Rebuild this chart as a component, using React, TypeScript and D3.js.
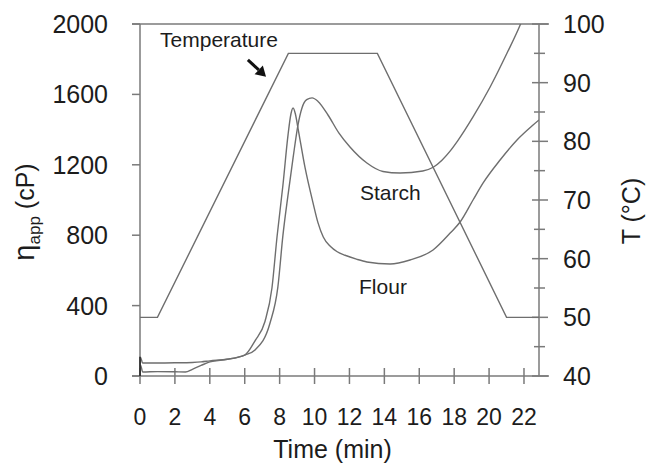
import * as d3 from 'd3'

// RVA pasting curves
const flourTime = [0, 0.03, 0.15, 1, 2, 3, 3.5, 4, 5, 6, 6.59, 7.16, 7.56, 7.85, 8.19, 8.48, 8.65, 8.77, 8.9, 9.05, 9.46, 9.91, 10.2, 10.5, 10.9, 11.3, 11.75, 12.4, 13.0, 14.33, 15.47, 16.79, 17.77, 18.34, 19.08, 19.66, 20.63, 21.6, 22.52, 22.86]
const flourVisc = [0, 105, 74, 74, 75, 77, 80, 86, 95, 119, 200, 310, 500, 790, 1085, 1369, 1490, 1523, 1490, 1409, 1182, 985, 870, 790, 737, 706, 686, 664, 648, 636, 659, 716, 812, 875, 1000, 1097, 1227, 1341, 1426, 1455]

const starchTime = [0, 0.04, 0.15, 1, 2, 2.6, 3, 3.5, 4, 5, 6, 6.59, 7.45, 7.9, 8.19, 8.48, 8.77, 9.05, 9.28, 9.55, 9.86, 10.2, 10.77, 11.4, 12.03, 13.0, 13.92, 14.9, 16.2, 16.8, 17.3, 17.8, 18.2, 19.08, 20.06, 21.03, 21.78, 22.2]
const starchVisc = [0, 60, 23, 25, 24, 23, 38, 60, 80, 95, 119, 148, 301, 506, 800, 1028, 1239, 1426, 1523, 1570, 1580, 1560, 1483, 1380, 1301, 1210, 1162, 1153, 1165, 1186, 1226, 1282, 1336, 1472, 1642, 1835, 1994, 2100]

const tempTime = [0, 1, 8.5, 13.6, 21.0, 22.86]
const tempValue = [50, 50, 95, 95, 50, 50]

const timeTicks = [0, 2, 4, 6, 8, 10, 12, 14, 16, 18, 20, 22]
const viscTicks = [0, 400, 800, 1200, 1600, 2000]
const tempTicks = [40, 50, 60, 70, 80, 90, 100]
const tempMinor = [45, 55, 65, 75, 85, 95]

const W = 647, H = 465
const left = 140, right = 539, top = 24, bottom = 376
const font = '"Liberation Sans", Arial, sans-serif'
const lineCol = '#6e6e6e'
const axisCol = '#7a7a7a'
const textCol = '#1c1c1c'

export default function App() {
  const x = d3.scaleLinear().domain([0, 22.86]).range([left, right])
  const y = d3.scaleLinear().domain([0, 2000]).range([bottom, top])
  const yT = d3.scaleLinear().domain([40, 100]).range([bottom, top])

  const path = (ts: number[], vs: number[], sy: d3.ScaleLinear<number, number>) =>
    d3.line<number>().x(i => x(ts[i])).y(i => sy(vs[i])).curve(d3.curveMonotoneX)(ts.map((_, i) => i)) || ''
  const tempPath = d3.line<number>().x(i => x(tempTime[i])).y(i => yT(tempValue[i]))(tempTime.map((_, i) => i)) || ''

  // arrow pointing at temperature ramp
  const tip = [x(7.22), yT(91)]
  const tail = [x(6.18), yT(93.9)]
  const ang = Math.atan2(tip[1] - tail[1], tip[0] - tail[0])
  const hl = 10, hw = 6
  const base = [tip[0] - hl * Math.cos(ang), tip[1] - hl * Math.sin(ang)]
  const head = [
    tip,
    [base[0] + hw * Math.sin(ang), base[1] - hw * Math.cos(ang)],
    [base[0] - hw * Math.sin(ang), base[1] + hw * Math.cos(ang)],
  ].map(p => p.join(',')).join(' ')

  return (
    <svg width={W} height={H} style={{ position: 'absolute', left: 0, top: 0, background: '#fff' }} fontFamily={font}>
      <defs>
        <clipPath id="plot">
          <rect x={left} y={top} width={right - left} height={bottom - top} />
        </clipPath>
      </defs>

      {/* frame lines */}
      <g stroke={axisCol} strokeWidth={1.5} fill="none">
        <line x1={left - 8} x2={right + 10} y1={top} y2={top} />
        <line x1={left - 8} x2={right + 10} y1={bottom} y2={bottom} />
        <line x1={left} x2={left} y1={top} y2={bottom} />
        <line x1={right} x2={right} y1={top} y2={bottom} />
        {viscTicks.map(v => <line key={v} x1={left - 8} x2={left} y1={y(v)} y2={y(v)} />)}
        {timeTicks.map(t => <line key={t} x1={x(t)} x2={x(t)} y1={bottom - 8} y2={bottom + 8} />)}
        {tempTicks.map(t => <line key={t} x1={right - 7} x2={right + 9} y1={yT(t)} y2={yT(t)} />)}
        {tempMinor.map(t => <line key={t} x1={right - 5} x2={right + 6} y1={yT(t)} y2={yT(t)} />)}
      </g>

      {/* curves */}
      <g clipPath="url(#plot)" fill="none" stroke={lineCol} strokeWidth={1.4}>
        <path d={path(flourTime, flourVisc, y)} />
        <path d={path(starchTime, starchVisc, y)} />
        <path d={tempPath} />
      </g>
      <line x1={left} x2={left} y1={y(0)} y2={y(110)} stroke="#222" strokeWidth={1.5} />

      {/* tick labels */}
      <g fill={textCol}>
        {viscTicks.map(v => (
          <text key={v} x={108} y={y(v)} dy="0.36em" textAnchor="end" fontSize={25}>{v}</text>
        ))}
        {timeTicks.map(t => (
          <text key={t} x={x(t)} y={425} textAnchor="middle" fontSize={23}>{t}</text>
        ))}
        {tempTicks.map(t => (
          <text key={t} x={563} y={yT(t)} dy="0.36em" textAnchor="start" fontSize={25}>{t}</text>
        ))}
      </g>

      {/* axis titles */}
      <text x={(left + right) / 2 - 7} y={458} textAnchor="middle" fontSize={25} fill={textCol}>Time (min)</text>
      <text transform={`translate(34,212) rotate(-90)`} textAnchor="middle" fill={textCol} fontSize={25}>
        <tspan fontSize={29}>η</tspan>
        <tspan fontSize={17} dy={6}>app</tspan>
        <tspan dy={-6}> (cP)</tspan>
      </text>
      <text transform={`translate(640,211) rotate(-90)`} textAnchor="middle" fill={textCol} fontSize={25}>T (°C)</text>

      {/* annotations */}
      <text x={x(1.15)} y={yT(96.1)} fontSize={21} fill={textCol}>Temperature</text>
      <text x={x(12.6)} y={y(1000)} fontSize={21} fill={textCol}>Starch</text>
      <text x={x(12.55)} y={y(466)} fontSize={21} fill={textCol}>Flour</text>
      <line x1={tail[0]} y1={tail[1]} x2={base[0]} y2={base[1]} stroke="#111" strokeWidth={3} />
      <polygon points={head} fill="#111" />
    </svg>
  )
}
